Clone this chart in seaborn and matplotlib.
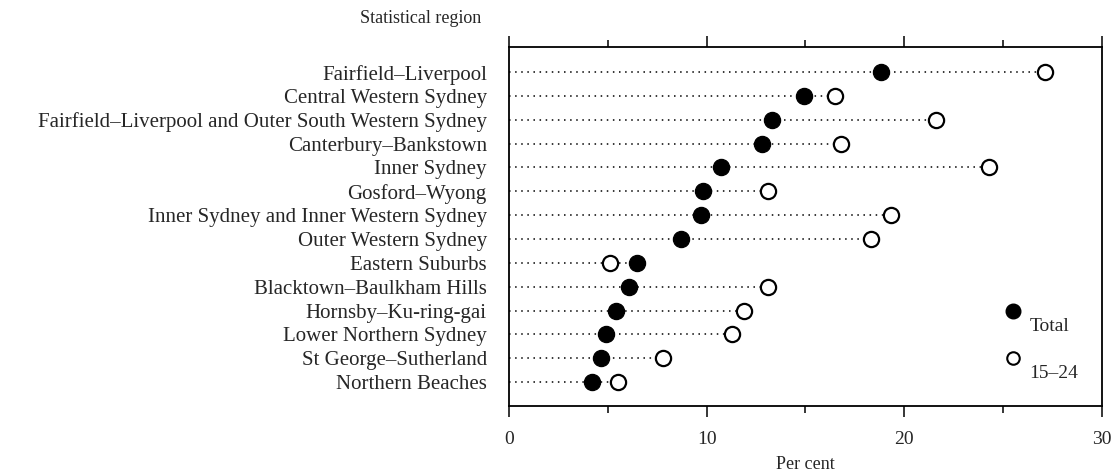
import pandas as pd
import matplotlib.pyplot as plt
import seaborn as sns
from matplotlib.lines import Line2D
from matplotlib.ticker import MultipleLocator

regions = ['Fairfield–Liverpool', 'Central Western Sydney',
           'Fairfield–Liverpool and Outer South Western Sydney',
           'Canterbury–Bankstown', 'Inner Sydney', 'Gosford–Wyong',
           'Inner Sydney and Inner Western Sydney', 'Outer Western Sydney',
           'Eastern Suburbs', 'Blacktown–Baulkham Hills', 'Hornsby–Ku-ring-gai',
           'Lower Northern Sydney', 'St George–Sutherland', 'Northern Beaches']
total = [18.8, 14.95, 13.3, 12.8, 10.75, 9.8, 9.7, 8.7, 6.5, 6.05, 5.4, 4.9, 4.65, 4.2]
youth = [27.1, 16.5, 21.6, 16.8, 24.3, 13.1, 19.35, 18.3, 5.1, 13.1, 11.9, 11.3, 7.8, 5.5]

df = pd.DataFrame({'region': regions, 'Total': total, '15–24': youth})
df['pos'] = range(len(df))
df['end'] = df[['Total', '15–24']].max(axis=1)

sns.set_style('white')
plt.rcParams['font.family'] = ['Liberation Serif', 'DejaVu Serif']

fig = plt.figure(figsize=(11.15, 4.74), dpi=100)
ax = fig.add_axes([0.4565, 0.1435, 0.5318, 0.7573])

ax.hlines(df['pos'], 0, df['end'], colors='black', linestyles=(0, (1, 3)), linewidth=1.1, zorder=1)
sns.scatterplot(data=df, x='15–24', y='pos', ax=ax, s=120, facecolor='white',
                edgecolor='black', linewidth=1.6, zorder=3)
sns.scatterplot(data=df, x='Total', y='pos', ax=ax, s=135, color='black',
                edgecolor='black', zorder=4)

ax.set_xlim(0, 30)
ax.set_ylim(len(df) - 1 + 1.0, -1.05)
ax.set_yticks(df['pos'])
ax.set_yticklabels(df['region'], fontsize=15)
ax.tick_params(axis='y', length=0, pad=16)

ax.xaxis.set_major_locator(MultipleLocator(10))
ax.xaxis.set_minor_locator(MultipleLocator(5))
ax.tick_params(axis='x', which='major', direction='out', length=8, width=1.3,
               labelsize=14, pad=10, bottom=True, top=True)
ax.tick_params(axis='x', which='minor', direction='out', length=5, width=1.3,
               bottom=True, top=True)
ax.set_xlabel('Per cent', fontsize=13, labelpad=6)
ax.set_ylabel('')

for s in ax.spines.values():
    s.set_visible(True)
    s.set_color('black')
    s.set_linewidth(1.3)

handles = [Line2D([], [], marker='o', linestyle='', markersize=10.5, color='black'),
           Line2D([], [], marker='o', linestyle='', markersize=9,
                  markerfacecolor='white', markeredgecolor='black', markeredgewidth=1.5)]
leg = ax.legend(handles, ['Total', '15–24'], loc='lower right', bbox_to_anchor=(0.99, 0.055),
                frameon=False, fontsize=14, labelspacing=1.5, handletextpad=0.05,
                handlelength=1.6)
for t in leg.get_texts():
    t.set_va('top')

fig.text(0.377, 0.962, 'Statistical region', fontsize=13, ha='center', va='center')

fig.savefig('out.png', dpi=100)
